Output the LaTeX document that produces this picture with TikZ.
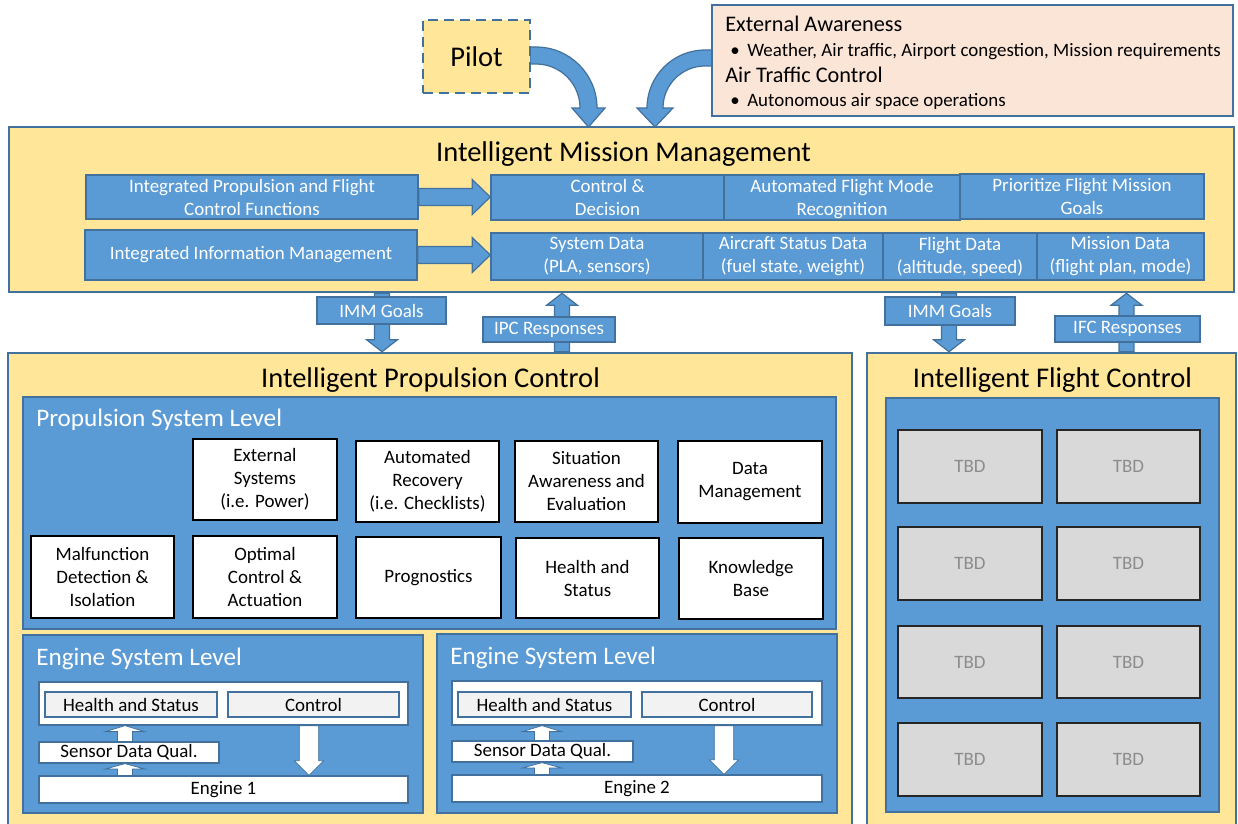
\documentclass[tikz,border=0pt]{standalone}
\usepackage{fontspec}
\setmainfont{Carlito}
\usetikzlibrary{fit,calc}
\definecolor{myyellow}{HTML}{FFE699}
\definecolor{myblue}{HTML}{5B9BD5}
\definecolor{mydark}{HTML}{41719C}
\definecolor{mypeach}{HTML}{FBE5D6}
\definecolor{mygray}{HTML}{D9D9D9}
\definecolor{mylight}{HTML}{F2F2F2}
\definecolor{tbdtext}{HTML}{8C8C8C}
\newcommand\mytitle{\fontsize{21.4}{25}\selectfont}
\newcommand\myhead{\fontsize{16.7}{20}\selectfont}
\newcommand\mymid{\fontsize{18.9}{22}\selectfont}
\newcommand\mysmall{\fontsize{14.2}{17.25}\selectfont}
% block arrows: #1 style, #2 from, #3 to, #4 shaft half, #5 head half, #6 head length
\newcommand\myarrowR[6]{%
 \path[#1] let \p1=(#2), \p2=(#3) in
 (\x1,\y1+#4) -- (\x2-#6,\y1+#4) -- (\x2-#6,\y1+#5) -- (\x2,\y1) -- (\x2-#6,\y1-#5) -- (\x2-#6,\y1-#4) -- (\x1,\y1-#4) -- cycle;}
\newcommand\myarrowD[6]{%
 \path[#1] let \p1=(#2), \p2=(#3) in
 (\x1-#4,\y1) -- (\x1-#4,\y2+#6) -- (\x1-#5,\y2+#6) -- (\x1,\y2) -- (\x1+#5,\y2+#6) -- (\x1+#4,\y2+#6) -- (\x1+#4,\y1) -- cycle;}
\newcommand\myarrowU[6]{%
 \path[#1] let \p1=(#2), \p2=(#3) in
 (\x1-#4,\y1) -- (\x1-#4,\y2-#6) -- (\x1-#5,\y2-#6) -- (\x1,\y2) -- (\x1+#5,\y2-#6) -- (\x1+#4,\y2-#6) -- (\x1+#4,\y1) -- cycle;}
\tikzset{
 yel/.style={draw=mydark, fill=myyellow, line width=1.9pt, inner sep=0pt},
 bbox/.style={draw=mydark, fill=myblue, line width=1.1pt, inner sep=0pt},
 wbox/.style={draw=black, fill=white, line width=1.3pt, inner sep=0pt},
 tbdbox/.style={draw=black!85, fill=mygray, line width=1.5pt, inner sep=0pt},
 gbox/.style={draw=mydark, fill=mylight, line width=0.9pt, inner sep=0pt},
 ewbox/.style={draw=mydark, fill=white, line width=0.9pt, inner sep=0pt},
 barrow/.style={fill=myblue, draw=mydark, line width=0.9pt},
 warrow/.style={fill=white, draw=mydark, line width=0.6pt},
 wtxt/.style={text=white, inner sep=0pt, align=center, font=\mysmall, anchor=center},
 ktxt/.style={text=black, inner sep=0pt, align=center, font=\mysmall, anchor=center},
 gtxt/.style={text=tbdtext, inner sep=0pt, font=\mysmall, anchor=center},
 ltxt/.style={inner sep=0pt, anchor=base west},
}
\begin{document}
\begin{tikzpicture}[x=0.75pt,y=-0.75pt]
\useasboundingbox (0,0) rectangle (1238,824);
\clip (0,0) rectangle (1238,824);

% ---------- Intelligent Mission Management ----------
\node[yel, fit={(9,127)(1234,292)}] (imm) {};
\node[font=\mytitle, anchor=base] (immt) at (623.5,161) {Intelligent Mission Management};

% curved arrows into IMM
\path[barrow] (530,47) -- (536,47) .. controls (569.7,47) and (597,74.3) .. (597,108)
  -- (605,108) -- (588.5,127) -- (572,108) -- (580,108)
  .. controls (580,83.7) and (560.3,64) .. (536,64) -- (530,64) -- cycle;
\path[barrow] (712,50) -- (705,50) .. controls (673,50) and (647,76) .. (647,108)
  -- (637,108) -- (655,127) -- (673,108) -- (663,108)
  .. controls (663,84.8) and (681.8,66) .. (705,66) -- (712,66) -- cycle;

\node[draw=mydark, fill=myyellow, line width=2.2pt, dash pattern=on 7.5pt off 4.5pt,
  inner sep=0pt, fit={(423,20)(530,93)}] (pilot) {};
\node[ktxt, font=\mytitle] (pilotT) at (pilot.center) {Pilot};
\node[draw=mydark, fill=mypeach, line width=1.1pt, inner sep=0pt, fit={(712,5)(1233,116)}] (ext) {};
\node[ltxt, font=\myhead] (ea) at (725,32) {External Awareness};
\node[ltxt, font=\mysmall] (eab1) at (730,57) {•};
\node[ltxt, font=\mysmall] (eat1) at (747,57) {Weather, Air traffic, Airport congestion, Mission requirements};
\node[ltxt, font=\myhead] (atc) at (725,83) {Air Traffic Control};
\node[ltxt, font=\mysmall] (eab2) at (730,107) {•};
\node[ltxt, font=\mysmall] (eat2) at (747,107) {Autonomous air space operations};

\node[bbox, fit={(86,175)(418,219)}] (ipf) {};
\node[wtxt] (ipfT) at (ipf.center) {Integrated Propulsion and Flight\\Control Functions};
\node[bbox, fit={(85,230)(417,280)}] (iim) {};
\node[wtxt] (iimT) at (iim.center) {Integrated Information Management};
\node[bbox, fit={(491,175)(724,220)}] (cd) {};
\node[wtxt] (cdT) at (cd.center) {Control \&\\Decision};
\node[bbox, fit={(724,175)(960,220)}] (afm) {};
\node[wtxt] (afmT) at ([yshift=-1.5pt]afm.center) {Automated Flight Mode\\Recognition};
\node[bbox, fit={(960,174)(1204,219)}] (pfm) {};
\node[wtxt] (pfmT) at (pfm.center) {Prioritize Flight Mission\\Goals};
\node[bbox, fit={(491,233)(703,280)}] (sd) {};
\node[wtxt] (sdT) at (sd.center) {System Data\\(PLA, sensors)};
\node[bbox, fit={(703,233)(883,280)}] (asd) {};
\node[wtxt] (asdT) at (asd.center) {Aircraft Status Data\\(fuel state, weight)};
\node[bbox, fit={(883,233)(1037,280)}] (fd) {};
\node[wtxt] (fdT) at (fd.center) {Flight Data\\(altitude, speed)};
\node[bbox, fit={(1037,233)(1204,280)}] (md) {};
\node[wtxt] (mdT) at (md.center) {Mission Data\\(flight plan, mode)};
\myarrowR{barrow}{ipf.east}{cd.west}{6.4pt}{13.1pt}{13.5pt}
\myarrowR{barrow}{iim.east}{sd.west}{6.4pt}{13.1pt}{13.5pt}

% ---------- lower containers ----------
\node[yel, fit={(8,353)(852,840)}] (ipc) {};
\node[yel, fit={(867,353)(1236,840)}] (ifc) {};
\node[font=\mytitle, anchor=base] (ipct) at (430.5,387) {Intelligent Propulsion Control};
\node[font=\mytitle, anchor=base] (ifct) at (1052.5,387) {Intelligent Flight Control};

% ---------- vertical connectors ----------
\coordinate (gl) at (382,310.5);
\coordinate (ipcr) at (562,329.5);
\coordinate (gr) at (949,311);
\coordinate (ifcr) at (1126.5,329);
\myarrowD{barrow}{gl |- imm.south}{gl |- ipc.north}{5.6pt}{11.6pt}{9pt}
\myarrowU{barrow}{ipcr |- ipc.north}{ipcr |- imm.south}{5.6pt}{11.6pt}{9pt}
\myarrowD{barrow}{gr |- imm.south}{gr |- ifc.north}{5.6pt}{11.6pt}{9pt}
\myarrowU{barrow}{ifcr |- ifc.north}{ifcr |- imm.south}{5.6pt}{11.6pt}{9pt}
\node[bbox, fit={(317,297)(446,324)}] (goalsL) {};
\node[wtxt] (goalsLT) at (goalsL.center) {IMM Goals};
\node[bbox, fit={(483,317)(615,342)}] (ipcresp) {};
\node[wtxt] (ipcrespT) at (ipcresp.center) {IPC Responses};
\node[bbox, fit={(885,297)(1015,325)}] (goalsR) {};
\node[wtxt] (goalsRT) at (goalsR.center) {IMM Goals};
\node[bbox, fit={(1055,316)(1200,342)}] (ifcresp) {};
\node[wtxt] (ifcrespT) at (ifcresp.center) {IFC Responses};

% ---------- Propulsion System Level ----------
\node[bbox, fit={(23,397)(836,629)}] (psl) {};
\node[ltxt, font=\mymid, text=white] (pslt) at (36,426) {Propulsion System Level};
\node[wbox, fit={(193,439)(337,520)}] (es) {};
\node[ktxt] (esT) at (es.center) {External\\Systems\\(i.e. Power)};
\node[wbox, fit={(356,441)(499,522)}] (ar) {};
\node[ktxt] (arT) at (ar.center) {Automated\\Recovery\\(i.e. Checklists)};
\node[wbox, fit={(515,441)(658,522)}] (sa) {};
\node[ktxt] (saT) at (sa.center) {Situation\\Awareness and\\Evaluation};
\node[wbox, fit={(678,441)(822,523)}] (dm) {};
\node[ktxt] (dmT) at (dm.center) {Data\\Management};
\node[wbox, fit={(31,536)(174,618)}] (mf) {};
\node[ktxt] (mfT) at (mf.center) {Malfunction\\Detection \&\\Isolation};
\node[wbox, fit={(193,536)(337,618)}] (oc) {};
\node[ktxt] (ocT) at (oc.center) {Optimal\\Control \&\\Actuation};
\node[wbox, fit={(356,537)(501,618)}] (pr) {};
\node[ktxt] (prT) at (pr.center) {Prognostics};
\node[wbox, fit={(516,538)(659,618)}] (hs) {};
\node[ktxt] (hsT) at (hs.center) {Health and\\Status};
\node[wbox, fit={(679,538)(823,619)}] (kb) {};
\node[ktxt] (kbT) at (kb.center) {Knowledge\\Base};

% ---------- Engine System Level 1 ----------
\node[bbox, fit={(23,635)(423,813)}] (esl1) {};
\node[ltxt, font=\mymid, text=white] (esl1t) at (36,665) {Engine System Level};
\node[ewbox, fit={(39,682)(408,725)}] (pan1) {};
\node[gbox, fit={(45,692)(217,717)}] (hs1) {};
\node[ktxt] (hs1T) at (hs1.center) {Health and Status};
\node[gbox, fit={(228,692)(399,717)}] (ct1) {};
\node[ktxt] (ct1T) at (ct1.center) {Control};
\node[ewbox, fit={(39,742)(219,763)}] (sq1) {};
\node[ktxt] (sq1T) at (sq1.center) {Sensor Data Qual.};
\node[ewbox, fit={(39,776)(408,803)}] (en1) {};
\node[ktxt] (en1T) at (en1.center) {Engine 1};
\coordinate (u1) at (125,750);
\coordinate (d1) at (309,750);
\myarrowU{warrow}{u1 |- en1.north}{u1 |- sq1.south}{5.6pt}{14.6pt}{4pt}
\myarrowU{warrow}{u1 |- sq1.north}{u1 |- pan1.south}{5.6pt}{14.6pt}{4.5pt}
\myarrowD{warrow}{d1 |- pan1.south}{d1 |- en1.north}{7.3pt}{11pt}{11pt}

% ---------- Engine System Level 2 ----------
\node[bbox, fit={(437,634)(837,813)}] (esl2) {};
\node[ltxt, font=\mymid, text=white] (esl2t) at (450,664) {Engine System Level};
\node[ewbox, fit={(452,681)(822,725)}] (pan2) {};
\node[gbox, fit={(458,692)(631,717)}] (hs2) {};
\node[ktxt] (hs2T) at (hs2.center) {Health and Status};
\node[gbox, fit={(642,692)(812,717)}] (ct2) {};
\node[ktxt] (ct2T) at (ct2.center) {Control};
\node[ewbox, fit={(452,741)(633,762)}] (sq2) {};
\node[ktxt] (sq2T) at (sq2.center) {Sensor Data Qual.};
\node[ewbox, fit={(452,775)(822,802)}] (en2) {};
\node[ktxt] (en2T) at (en2.center) {Engine 2};
\coordinate (u2) at (542,750);
\coordinate (d2) at (724,750);
\myarrowU{warrow}{u2 |- en2.north}{u2 |- sq2.south}{5.6pt}{14.6pt}{4pt}
\myarrowU{warrow}{u2 |- sq2.north}{u2 |- pan2.south}{5.6pt}{14.6pt}{4.5pt}
\myarrowD{warrow}{d2 |- pan2.south}{d2 |- en2.north}{7.3pt}{11pt}{11pt}

% ---------- Intelligent Flight Control ----------
\node[bbox, fit={(886,398)(1219,812)}] (ifci) {};
\node[tbdbox, fit={(898,430)(1042,503)}] (t11) {};
\node[gtxt] (t11T) at (t11.center) {TBD};
\node[tbdbox, fit={(1057,430)(1200,503)}] (t12) {};
\node[gtxt] (t12T) at (t12.center) {TBD};
\node[tbdbox, fit={(898,527)(1042,600)}] (t21) {};
\node[gtxt] (t21T) at (t21.center) {TBD};
\node[tbdbox, fit={(1057,527)(1200,600)}] (t22) {};
\node[gtxt] (t22T) at (t22.center) {TBD};
\node[tbdbox, fit={(898,626)(1042,698)}] (t31) {};
\node[gtxt] (t31T) at (t31.center) {TBD};
\node[tbdbox, fit={(1057,626)(1200,698)}] (t32) {};
\node[gtxt] (t32T) at (t32.center) {TBD};
\node[tbdbox, fit={(898,723)(1042,796)}] (t41) {};
\node[gtxt] (t41T) at (t41.center) {TBD};
\node[tbdbox, fit={(1057,723)(1200,796)}] (t42) {};
\node[gtxt] (t42T) at (t42.center) {TBD};
\end{tikzpicture}
\end{document}
